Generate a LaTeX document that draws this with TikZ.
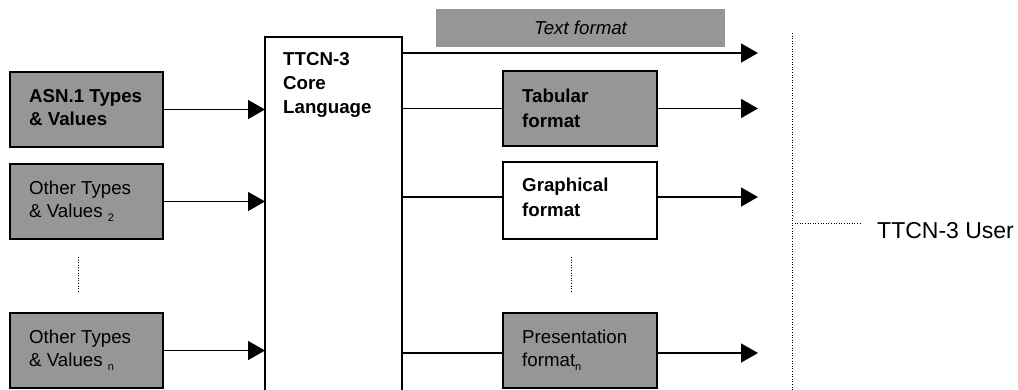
\documentclass[tikz,border=0pt]{standalone}
\usepackage{fontspec}
\setmainfont{Liberation Sans}
\usetikzlibrary{arrows.meta,calc}
\definecolor{boxgray}{RGB}{150,150,150}
\begin{document}
\begin{tikzpicture}[x=1pt,y=-1pt,
  box/.style={draw=black,line width=1.4pt,minimum width=153pt,minimum height=75pt,inner sep=0pt,outer sep=0pt},
  graybox/.style={box,fill=boxgray},
  whitebox/.style={box,fill=white},
  txt/.style={anchor=west,align=left,inner sep=0pt,font=\fontsize{18.7}{23}\selectfont},
  conn/.style={line width=1.4pt},
  arr/.style={conn,-{Triangle[length=17pt,width=19pt]}},
  dots/.style={line width=1pt,dash pattern=on 1pt off 1.6pt}]
\useasboundingbox (0,0) rectangle (1018,389);
% left inputs
\node[graybox] (asn) at (86.5,109.5) {};
\node[txt,font=\fontsize{18.7}{23}\selectfont\bfseries] (asnt) at ([xshift=19pt,yshift=2pt]asn.west) {ASN.1 Types\\\& Values};
\node[graybox] (oth) at (86.5,201.5) {};
\node[txt] (otht) at ([xshift=19pt]oth.west) {Other Types\\\& Values \raisebox{-4pt}{\fontsize{11}{11}\selectfont 2}};
\node[graybox] (othn) at (86.5,350.5) {};
\node[txt] (othnt) at ([xshift=19pt]othn.west) {Other Types\\\& Values \raisebox{-4pt}{\fontsize{11}{11}\selectfont n}};
\coordinate (dl1) at (78,257);
\coordinate (dl2) at (78,293);
\draw[dots] (dl1) -- (dl2);
% core
\node[whitebox,minimum width=137pt,minimum height=363pt] (core) at (333.5,218.5) {};
\node[anchor=base west,align=left,inner sep=0pt,font=\fontsize{18.7}{24}\selectfont\bfseries] (coret) at ($(core.north west)+(18,76)$) {TTCN-3\\Core\\Language};
\draw[arr] (asn.east) -- (asn.east -| core.west);
\draw[arr] (oth.east) -- (oth.east -| core.west);
\draw[arr] (othn.east) -- (othn.east -| core.west);
% text format
\node[fill=boxgray,minimum width=289pt,minimum height=38pt,inner sep=0pt] (tf) at (580.5,28) {\fontsize{18.7}{23}\selectfont\itshape Text format};
\coordinate (e1) at (758,53);
\draw[arr] (core.east |- e1) -- (e1);
% tabular
\node[graybox,minimum width=154pt] (tab) at (580,108.5) {};
\node[txt,font=\fontsize{18.7}{25}\selectfont\bfseries] (tabt) at ([xshift=19pt]tab.west) {Tabular\\format};
\coordinate (e2) at (758,108.5);
\draw[conn] (core.east |- tab.west) -- (tab.west);
\draw[arr] (tab.east) -- (e2);
% graphical
\node[whitebox,minimum width=154pt,minimum height=77pt] (gra) at (580,200.5) {};
\node[txt,font=\fontsize{18.7}{25}\selectfont\bfseries] (grat) at ([xshift=19pt,yshift=3pt]gra.west) {Graphical\\format};
\coordinate (g1) at (0,197);
\coordinate (e3) at (758,197);
\draw[conn] (core.east |- g1) -- (gra.west |- g1);
\draw[arr] (gra.east |- g1) -- (e3);
\coordinate (dm1) at (571,257);
\coordinate (dm2) at (571,293);
\draw[dots] (dm1) -- (dm2);
% presentation
\node[graybox,minimum width=154pt] (pres) at (580,350.5) {};
\node[txt] (prest) at ([xshift=19pt]pres.west) {Presentation\\format\raisebox{-4pt}{\fontsize{11}{11}\selectfont n}};
\coordinate (p1) at (0,353);
\coordinate (e4) at (758,353);
\draw[conn] (core.east |- p1) -- (pres.west |- p1);
\draw[arr] (pres.east |- p1) -- (e4);
% user
\coordinate (u1) at (792,33);
\coordinate (u2) at (792,392);
\coordinate (u3) at (792,223);
\coordinate (u4) at (860,223);
\draw[dots] (u1) -- (u2);
\draw[dots] (u3) -- (u4);
\node[anchor=base west,inner sep=0pt,font=\fontsize{23}{27}\selectfont] (user) at (877,238) {TTCN-3 User};
\end{tikzpicture}
\end{document}
